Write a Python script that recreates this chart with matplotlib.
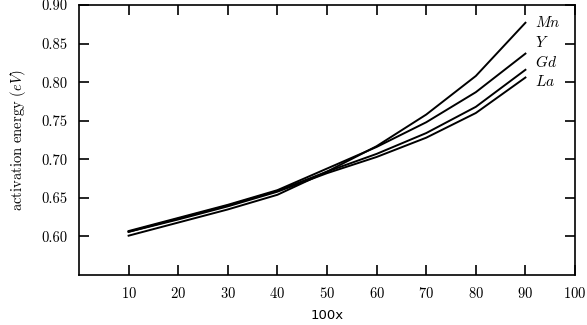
import matplotlib
matplotlib.use('Agg')
import matplotlib.pyplot as plt

plt.rcParams['font.family'] = 'serif'
plt.rcParams['font.serif'] = ['cmr10']
plt.rcParams['mathtext.fontset'] = 'cm'
plt.rcParams['axes.formatter.use_mathtext'] = True

# composition (100x) and activation energies (eV)
x = [10, 20, 30, 40, 50, 60, 70, 80, 90]
mn = [0.601, 0.618, 0.635, 0.654, 0.684, 0.717, 0.758, 0.808, 0.877]
y_ = [0.607, 0.624, 0.641, 0.660, 0.688, 0.716, 0.748, 0.787, 0.837]
gd = [0.606, 0.623, 0.640, 0.659, 0.684, 0.707, 0.734, 0.768, 0.816]
la = [0.606, 0.622, 0.639, 0.658, 0.682, 0.703, 0.728, 0.760, 0.806]
names = ['$Mn$', '$Y$', '$Gd$', '$La$']
label_y = [0.877, 0.851, 0.826, 0.801]

fig = plt.figure(figsize=(5.87, 3.25), dpi=100)
ax = fig.add_axes([0.1346, 0.1538, 0.845, 0.8308])

for series in [mn, y_, gd, la]:
    ax.plot(x, series, color='black', lw=1.4)

for name, ly in zip(names, label_y):
    ax.text(92, ly, name, fontsize=11, va='center', ha='left')

ax.set_xlim(0, 100)
ax.set_ylim(0.55, 0.90)
ax.set_xticks(range(10, 101, 10))
ax.set_yticks([0.60, 0.65, 0.70, 0.75, 0.80, 0.85, 0.90])
ax.set_yticklabels(['%.2f' % v for v in [0.60, 0.65, 0.70, 0.75, 0.80, 0.85, 0.90]])
ax.tick_params(direction='in', length=7, width=1.2, top=True, right=True,
               labelsize=10.5, pad=8)
for s in ax.spines.values():
    s.set_linewidth(1.2)

ax.set_xlabel('100x', family='DejaVu Sans', fontsize=9.5, labelpad=6)
ax.set_ylabel('activation energy $(eV)$', fontsize=10.5, labelpad=10)

fig.savefig('out.png', dpi=100)
